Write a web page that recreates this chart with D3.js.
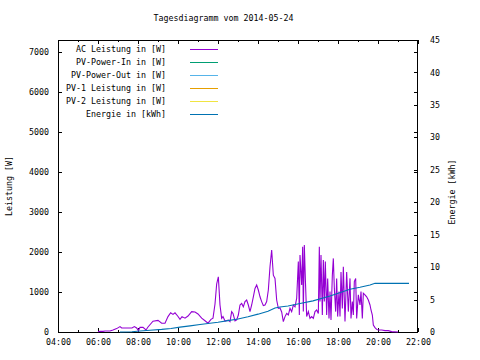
<!DOCTYPE html>
<html><head><meta charset="utf-8">
<script src="https://cdn.jsdelivr.net/npm/d3@7"></script>
<style>
html,body{margin:0;padding:0;background:#fff;}
svg{display:block;}
text{font-family:"DejaVu Sans Mono","Liberation Mono",monospace;font-size:8.3px;fill:#000;}
</style></head><body>
<svg id="c" width="480" height="360"></svg>
<script>
const title = "Tagesdiagramm vom 2014-05-24";
const yLabel = "Leistung [W]";
const y2Label = "Energie [kWh]";
const xTickLabels = ["04:00","06:00","08:00","10:00","12:00","14:00","16:00","18:00","20:00","22:00"];
const yTicks = [0,1000,2000,3000,4000,5000,6000,7000];
const y2Ticks = [0,5,10,15,20,25,30,35,40,45];
const seriesNames = ["AC Leistung in [W]","PV-Power-In in [W]","PV-Power-Out in [W]","PV-1 Leistung in [W]","PV-2 Leistung in [W]","Energie in [kWh]"];
const seriesColors = ["#9400d3","#009e73","#56b4e9","#e69f00","#f0e442","#0072b2"];

const acTimes = ["06:00","06:06","06:15","06:21","06:36","06:45","06:56","07:06","07:11","07:21","07:42","07:49","07:56","08:01","08:06","08:15","08:24","08:30","08:45","09:00","09:11","09:21","09:30","09:38","09:45","09:51","09:59","10:06","10:12","10:21","10:30","10:41","10:51","11:00","11:11","11:21","11:30","11:39","11:45","11:51","11:56","12:01","12:06","12:11","12:15","12:21","12:31","12:36","12:41","12:45","12:51","12:56","13:01","13:06","13:11","13:16","13:21","13:26","13:31","13:36","13:41","13:46","13:51","13:56","14:01","14:06","14:11","14:16","14:21","14:26","14:31","14:36","14:41","14:46","14:51","14:56","15:01","15:06","15:11","15:16","15:21","15:26","15:31","15:36","15:41","15:46","15:51","15:56","16:01","16:04","16:06","16:11","16:14","16:16","16:19","16:22","16:26","16:31","16:36","16:41","16:46","16:51","16:56","17:01","17:04","17:06","17:09","17:13","17:16","17:19","17:22","17:26","17:29","17:33","17:36","17:39","17:43","17:46","17:49","17:53","17:56","17:59","18:03","18:06","18:09","18:13","18:16","18:21","18:26","18:31","18:36","18:39","18:43","18:46","18:49","18:53","18:56","19:01","19:06","19:09","19:13","19:16","19:21","19:26","19:31","19:36","19:39","19:43","19:46","19:51","19:56","20:01","20:11","20:21","20:31","20:41","21:00"];
const acValues = [10,20,15,25,25,50,85,135,100,100,100,135,100,35,115,115,50,125,270,290,220,220,385,480,440,480,400,315,385,345,400,510,500,450,345,280,220,315,345,700,1200,1380,675,340,385,275,300,260,510,465,275,300,425,675,715,630,760,800,675,510,675,880,1090,1175,1050,880,760,660,675,760,1050,1630,2050,1420,1340,800,590,600,500,260,385,465,425,590,510,675,630,840,1760,425,1925,1175,2130,510,2175,1340,385,510,340,385,340,510,550,465,2130,760,1925,425,1800,760,1760,425,1340,340,1010,300,1420,1840,1090,510,1340,385,1010,385,1500,590,1630,260,1500,510,1340,340,760,425,1260,1340,340,930,675,1010,340,970,930,880,800,675,550,425,175,110,65,50,50,35,35,10,0];

const energyTimes = ["07:06","07:42","08:06","08:36","09:11","09:39","10:06","10:36","11:06","11:30","12:00","12:30","13:00","13:30","14:00","14:30","14:51","15:06","15:30","16:06","16:45","17:36","18:36","19:06","19:36","19:51","21:33"];
const energyValues = [0,0.05,0.15,0.28,0.4,0.55,0.75,0.95,1.15,1.3,1.5,1.75,2.0,2.35,2.75,3.2,3.7,3.85,4.0,4.4,4.8,5.55,6.6,6.9,7.24,7.5,7.5];

const pvInValues = [];
const pvOutValues = [];
const pv1Values = [];
const pv2Values = [];

const parse = d3.timeParse("%H:%M");
const svg = d3.select("#c");
const L=58, R=418, T=40, B=332;

const x = d3.scaleTime().domain([parse("04:00"), parse("22:00")]).range([L, R]);
const y = d3.scaleLinear().domain([0, 7300]).range([B, T]);
const y2 = d3.scaleLinear().domain([0, 45]).range([B, T]);

// title
svg.append("text").attr("x", 223.5).attr("y", 21).attr("text-anchor","middle").text(title);

// axes
const hours = d3.timeHour.every(1).range(parse("04:00"), d3.timeMinute.offset(parse("22:00"),1));
const evenHours = hours.filter(d => d.getHours() % 2 === 0);
const oddHours = hours.filter(d => d.getHours() % 2 === 1);

const gxb = svg.append("g").attr("transform", `translate(0,${B})`)
  .call(d3.axisBottom(x).tickValues(evenHours).tickSize(-4).tickPadding(11)
    .tickFormat((d,i) => xTickLabels[i]));
const gxbm = svg.append("g").attr("transform", `translate(0,${B})`)
  .call(d3.axisBottom(x).tickValues(oddHours).tickSize(-2).tickFormat(""));
const gxt = svg.append("g").attr("transform", `translate(0,${T})`)
  .call(d3.axisTop(x).tickValues(evenHours).tickSize(-4).tickFormat(""));
const gxtm = svg.append("g").attr("transform", `translate(0,${T})`)
  .call(d3.axisTop(x).tickValues(oddHours).tickSize(-2).tickFormat(""));
const gyl = svg.append("g").attr("transform", `translate(${L},0)`)
  .call(d3.axisLeft(y).tickValues(yTicks).tickSize(-4).tickPadding(9).tickFormat(d3.format("d")));
const gyr = svg.append("g").attr("transform", `translate(${R},0)`)
  .call(d3.axisRight(y).tickValues(yTicks).tickSize(-4).tickFormat(""));
const gy2 = svg.append("g").attr("transform", `translate(${R},0)`)
  .call(d3.axisRight(y2).tickValues(y2Ticks).tickSize(-4).tickPadding(12).tickFormat(d3.format("d")));

svg.selectAll(".domain").remove();
svg.selectAll(".tick line").attr("stroke","#000").attr("shape-rendering","crispEdges");
svg.selectAll(".tick text").attr("fill","#000").style("font-family",'"DejaVu Sans Mono","Liberation Mono",monospace').style("font-size","8.3px");
gxb.selectAll(".tick text").attr("dy","0.3em");

// frame
svg.append("rect").attr("x", L+0.5).attr("y", T+0.5).attr("width", R-L-1).attr("height", B-T)
  .attr("fill","none").attr("stroke","#000").attr("shape-rendering","crispEdges");

// axis labels
svg.append("text").attr("transform", `translate(12,186) rotate(-90)`).attr("text-anchor","middle").text(yLabel);
svg.append("text").attr("transform", `translate(455,192) rotate(-90)`).attr("text-anchor","middle").text(y2Label);

// data lines
const acData = acTimes.map((t,i) => ({t: parse(t), v: acValues[i]}));
const enData = energyTimes.map((t,i) => ({t: parse(t), v: energyValues[i]}));

const lineY = d3.line().x(d => x(d.t)).y(d => y(d.v));
const lineY2 = d3.line().x(d => x(d.t)).y(d => y2(d.v));

[pvInValues, pvOutValues, pv1Values, pv2Values].forEach((vals, k) => {
  if (vals.length) {
    svg.append("path").datum(acTimes.map((t,i)=>({t:parse(t), v: vals[i]})))
      .attr("d", lineY).attr("fill","none").attr("stroke", seriesColors[k+1]).attr("stroke-width",1);
  }
});
svg.append("path").datum(acData).attr("d", lineY).attr("fill","none")
  .attr("stroke", seriesColors[0]).attr("stroke-width", 1.1);
svg.append("path").datum(enData).attr("d", lineY2).attr("fill","none")
  .attr("stroke", seriesColors[5]).attr("stroke-width", 1.1);

// legend
const lg = svg.append("g");
seriesNames.forEach((name, i) => {
  const yy = 49 + i * 13;
  lg.append("text").attr("x", 166).attr("y", yy + 0.5).attr("text-anchor","end")
    .attr("dominant-baseline","middle").text(name);
  lg.append("line").attr("x1", 190).attr("x2", 218).attr("y1", yy + 0.5).attr("y2", yy + 0.5)
    .attr("stroke", seriesColors[i]).attr("stroke-width", 1);
});
</script>
</body></html>
